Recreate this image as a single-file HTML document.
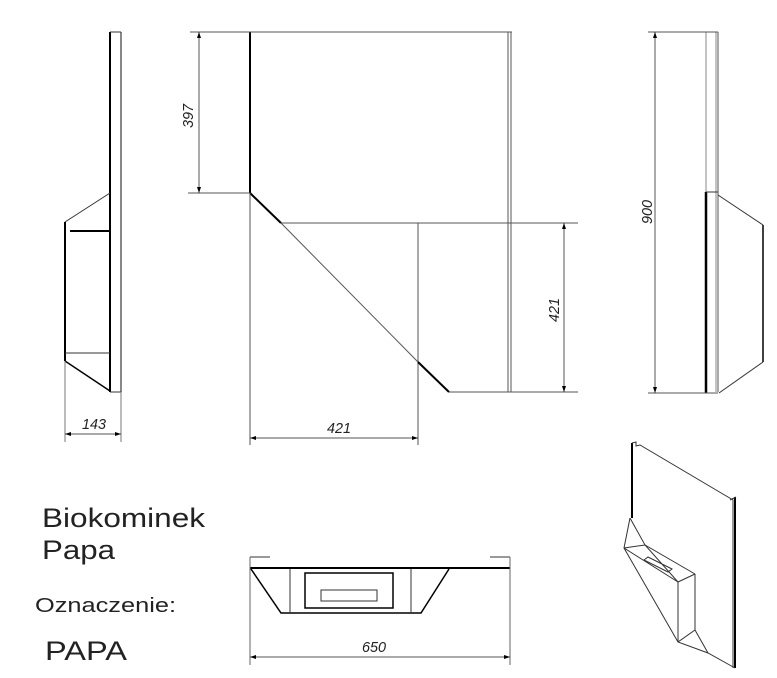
<!DOCTYPE html>
<html><head><meta charset="utf-8"><style>
html,body{margin:0;padding:0;background:#fff;width:777px;height:678px;overflow:hidden}
svg{display:block}
text{font-family:"Liberation Sans",sans-serif;fill:#222}
</style></head><body>
<svg width="777" height="678" viewBox="0 0 777 678" xmlns="http://www.w3.org/2000/svg">
<g fill="none" stroke="#333" stroke-width="1">
<line x1="110" y1="32" x2="110" y2="392" stroke-width="2" stroke="#000"/>
<line x1="121" y1="32" x2="121" y2="392" stroke="#888" stroke-width="2"/>
<line x1="110" y1="32" x2="121" y2="32"/>
<line x1="110" y1="392" x2="121" y2="392"/>
<line x1="110" y1="193" x2="65" y2="222"/>
<line x1="70" y1="231" x2="110" y2="231" stroke-width="2" stroke="#000"/>
<line x1="65" y1="222" x2="65" y2="361" stroke-width="2" stroke="#000"/>
<line x1="65" y1="353" x2="110" y2="353"/>
<line x1="65" y1="361" x2="110" y2="391" stroke-width="1.5" stroke="#000"/>
<line x1="65" y1="361" x2="65" y2="442" stroke="#777"/>
<line x1="121" y1="392" x2="121" y2="442" stroke="#777"/>
<line x1="65" y1="434" x2="121" y2="434" stroke="#555"/>
<line x1="250" y1="32" x2="250" y2="193" stroke-width="2" stroke="#000"/>
<line x1="190" y1="32" x2="512" y2="32" stroke="#555"/>
<line x1="188" y1="193" x2="250" y2="193" stroke="#555"/>
<line x1="199" y1="32" x2="199" y2="193" stroke="#555"/>
<line x1="508" y1="32" x2="508" y2="392" stroke="#555"/>
<line x1="511" y1="32" x2="511" y2="392" stroke="#555"/>
<line x1="250" y1="193" x2="281" y2="223" stroke-width="2" stroke="#000"/>
<line x1="281" y1="223" x2="578" y2="223" stroke="#555"/>
<line x1="281" y1="223" x2="418" y2="362" stroke="#555"/>
<line x1="418" y1="223" x2="418" y2="445" stroke="#555"/>
<line x1="418" y1="362" x2="449" y2="392" stroke-width="2" stroke="#000"/>
<line x1="449" y1="392" x2="578" y2="392" stroke="#555"/>
<line x1="564" y1="223" x2="564" y2="392" stroke="#555"/>
<line x1="250" y1="193" x2="250" y2="445" stroke="#555"/>
<line x1="250" y1="438" x2="418" y2="438" stroke="#555"/>
<line x1="706" y1="32" x2="706" y2="192" stroke="#888"/>
<line x1="716" y1="32" x2="716" y2="392" stroke="#888"/>
<line x1="718" y1="32" x2="718" y2="392" stroke="#555"/>
<line x1="706" y1="192" x2="706" y2="393" stroke-width="2.5" stroke="#000"/>
<line x1="648" y1="32" x2="718" y2="32" stroke="#555"/>
<line x1="648" y1="393" x2="718" y2="393" stroke="#555"/>
<line x1="706" y1="192" x2="718" y2="192"/>
<line x1="718" y1="195" x2="763" y2="225"/>
<line x1="763" y1="225" x2="763" y2="362" stroke-width="1.5" stroke="#000"/>
<line x1="763" y1="362" x2="719" y2="393"/>
<line x1="655" y1="32" x2="655" y2="393" stroke="#555"/>
<line x1="250" y1="568" x2="510" y2="568" stroke-width="2" stroke="#000"/>
<line x1="250" y1="557" x2="270" y2="557"/>
<line x1="490" y1="557" x2="510" y2="557"/>
<line x1="250" y1="557" x2="250" y2="665" stroke="#666"/>
<line x1="510" y1="557" x2="510" y2="665" stroke="#666"/>
<polyline points="251,569 281,613 421,613 449,569" stroke="#000" stroke-width="1.5"/>
<line x1="290" y1="569" x2="290" y2="613"/>
<line x1="411" y1="569" x2="411" y2="613"/>
<rect x="305" y="573" width="88" height="35" stroke="#000" stroke-width="1.5"/>
<rect x="321" y="590" width="56" height="11"/>
<line x1="250" y1="657" x2="510" y2="657" stroke="#555"/>
<line x1="632" y1="443" x2="632" y2="518" stroke="#000" stroke-width="2"/>
<polyline points="632,443 636,442 636,446 640,445 733,500 733,668"/>
<line x1="735" y1="497" x2="735" y2="668" stroke="#000" stroke-width="2"/>
<line x1="730" y1="500" x2="736" y2="497"/>
<polyline points="630,518 624,548 678,642 708,653 735,668"/>
<polyline points="630,518 645,545 678,582"/>
<polyline points="624,548 645,545 695,574"/>
<line x1="678" y1="582" x2="678" y2="642"/>
<line x1="695" y1="574" x2="695" y2="630"/>
<line x1="678" y1="582" x2="695" y2="574"/>
<polyline points="678,642 695,630 708,653"/>
<polygon points="648,557 672,569 668,572 644,560"/>
<line x1="624" y1="548" x2="678" y2="582"/>
</g>
<g fill="#000">
<polygon points="65,434 71,432 71,436"/><polygon points="121,434 115,432 115,436"/>
<polygon points="199,32 197,38 201,38"/><polygon points="199,193 197,187 201,187"/>
<polygon points="250,438 256,436 256,440"/><polygon points="418,438 412,436 412,440"/>
<polygon points="564,223 562,229 566,229"/><polygon points="564,392 562,386 566,386"/>
<polygon points="655,32 653,38 657,38"/><polygon points="655,393 653,387 657,387"/>
<polygon points="250,657 256,655 256,659"/><polygon points="510,657 504,655 504,659"/>
</g>
<g font-style="italic" font-size="15">
<text x="82" y="429" textLength="24" lengthAdjust="spacingAndGlyphs">143</text>
<text x="327" y="433" textLength="24" lengthAdjust="spacingAndGlyphs">421</text>
<text x="362" y="652" textLength="24" lengthAdjust="spacingAndGlyphs">650</text>
<text transform="translate(193,128) rotate(-90)" textLength="24" lengthAdjust="spacingAndGlyphs">397</text>
<text transform="translate(559,322) rotate(-90)" textLength="24" lengthAdjust="spacingAndGlyphs">421</text>
<text transform="translate(652,224) rotate(-90)" textLength="24" lengthAdjust="spacingAndGlyphs">900</text>
</g>
<text x="42" y="527" font-size="27" textLength="163" lengthAdjust="spacingAndGlyphs">Biokominek</text>
<text x="42" y="559" font-size="27" textLength="73" lengthAdjust="spacingAndGlyphs">Papa</text>
<text x="35" y="612" font-size="20" textLength="141" lengthAdjust="spacingAndGlyphs">Oznaczenie:</text>
<text x="45" y="660" font-size="27" textLength="82" lengthAdjust="spacingAndGlyphs">PAPA</text>
</svg>
</body></html>
